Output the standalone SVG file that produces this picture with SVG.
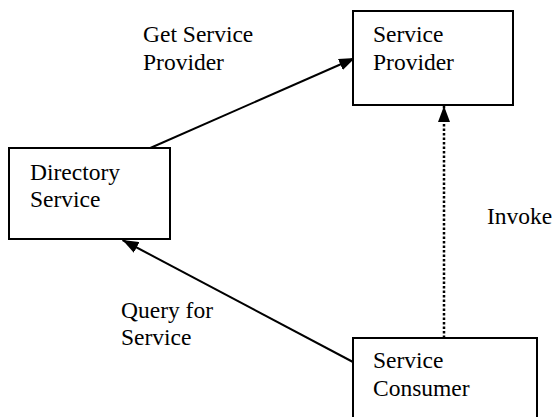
<svg xmlns="http://www.w3.org/2000/svg" width="553" height="417" viewBox="0 0 553 417">
<style>
.box{fill:#fff;stroke:#000;stroke-width:2}
.t{font-family:'Liberation Serif','Times New Roman',serif;font-size:23.5px;fill:#000}
.c{stroke:#000;stroke-width:2;fill:none}
.d{stroke:#000;stroke-width:2.5;fill:none;stroke-dasharray:2.5 2}
</style>
<defs>
<marker id="ah" viewBox="0 0 16 12" refX="16" refY="6" markerWidth="16" markerHeight="12" markerUnits="userSpaceOnUse" orient="auto">
<path d="M0,0 L16,6 L0,12 Z" fill="#000"/>
</marker>
</defs>
<rect width="553" height="417" fill="#fff"/>
<g id="connectors">
<line class="c" x1="148" y1="149" x2="355" y2="58" marker-end="url(#ah)"/>
<line class="c" x1="353" y1="362" x2="122.5" y2="240" marker-end="url(#ah)"/>
<line class="d" x1="444" y1="338" x2="444" y2="106" marker-end="url(#ah)"/>
</g>
<g id="provider">
<rect class="box" x="353" y="11" width="160" height="94"/>
<text class="t" x="373" y="42" font-family="Liberation Serif, serif">Service</text>
<text class="t" x="373" y="70" font-family="Liberation Serif, serif">Provider</text>
</g>
<g id="directory">
<rect class="box" x="9" y="148" width="161" height="91"/>
<text class="t" x="30" y="180" font-family="Liberation Serif, serif">Directory</text>
<text class="t" x="30" y="207" font-family="Liberation Serif, serif">Service</text>
</g>
<g id="consumer">
<rect class="box" x="353" y="338" width="184" height="90"/>
<text class="t" x="373" y="368" font-family="Liberation Serif, serif">Service</text>
<text class="t" x="373" y="396" font-family="Liberation Serif, serif">Consumer</text>
</g>
<g id="labels">
<text class="t" x="143" y="42" font-family="Liberation Serif, serif">Get Service</text>
<text class="t" x="143" y="70" font-family="Liberation Serif, serif">Provider</text>
<text class="t" x="487" y="224" font-family="Liberation Serif, serif">Invoke</text>
<text class="t" x="121" y="318" font-family="Liberation Serif, serif">Query for</text>
<text class="t" x="121" y="345" font-family="Liberation Serif, serif">Service</text>
</g>
</svg>
